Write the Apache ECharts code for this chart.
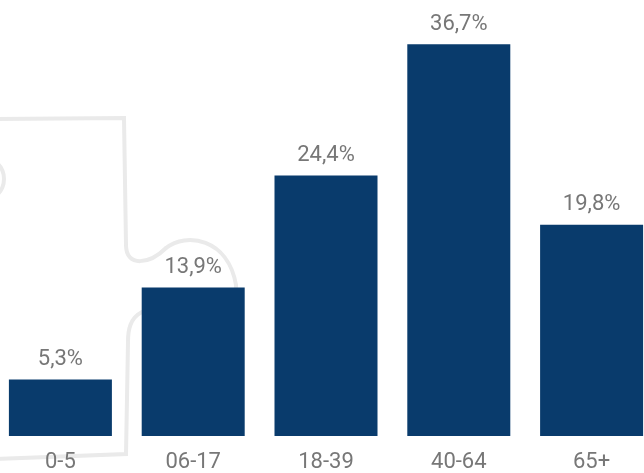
<!DOCTYPE html>
<html>
<head>
<meta charset="utf-8">
<script src="https://cdn.jsdelivr.net/npm/echarts@6/dist/echarts.min.js"></script>
<style>
  html, body { margin: 0; padding: 0; background: #fff; overflow: hidden; }
  /* le graphique deborde un peu de la fenetre des deux cotes */
  #chart { position: absolute; left: -6px; top: 0; width: 664px; height: 473px; }
</style>
</head>
<body>
<div id="chart"></div>
<script>
// tranches d'age et part de chaque tranche (%)
var categories = ['0-5', '06-17', '18-39', '40-64', '65+'];
var shares = [5.3, 13.9, 24.4, 36.7, 19.8];

(function () {
  var chart = echarts.init(document.getElementById('chart'));

  // contour de puzzle en fond (decor)
  var edge = { fill: 'none', stroke: '#eaeaea', lineWidth: 4, lineCap: 'round' };
  function curve(x1, y1, a, b, c, d, x2, y2) {
    return {
      type: 'bezierCurve', z: -10, silent: true,
      shape: { x1: x1, y1: y1, cpx1: a, cpy1: b, cpx2: c, cpy2: d, x2: x2, y2: y2 },
      style: edge
    };
  }
  var puzzle = [
    { type: 'polyline', z: -10, silent: true,
      shape: { points: [[-5, 119], [124, 118], [126, 245]] }, style: edge },
    curve(126, 245, 126, 268, 150, 264, 166, 248),
    curve(166, 248, 186, 232, 228, 238, 236, 285),
    curve(236, 285, 238, 330, 160, 305, 142, 312),
    curve(142, 312, 130, 318, 128, 330, 128, 342),
    { type: 'polyline', z: -10, silent: true,
      shape: { points: [[128, 342], [126, 454], [-5, 459]] }, style: edge },
    { type: 'circle', z: -10, silent: true,
      shape: { cx: -18, cy: 179, r: 22 }, style: edge }
  ];

  var option = {
    animation: false,
    textStyle: { fontFamily: 'Roboto' },
    graphic: [{ type: 'group', x: 6, children: puzzle }],
    grid: {
      left: 0,
      right: 0,
      top: 9,
      bottom: 34,
      containLabel: false
    },
    xAxis: {
      type: 'category',
      data: categories,
      axisLine: { show: false },
      axisTick: { show: false },
      axisLabel: {
        color: '#777777',
        fontSize: 22,
        margin: 15
      }
    },
    yAxis: {
      type: 'value',
      min: 0,
      max: 40,
      show: false,
      splitLine: { show: false }
    },
    series: [{
      type: 'bar',
      data: shares,
      barWidth: 103,
      itemStyle: { color: '#093b6c' },
      label: {
        show: true,
        position: 'top',
        distance: 9,
        color: '#777777',
        fontSize: 22,
        formatter: function (p) {
          return p.value.toFixed(1).replace('.', ',') + '%';
        }
      }
    }]
  };
  chart.setOption(option);
})();
</script>
</body>
</html>
